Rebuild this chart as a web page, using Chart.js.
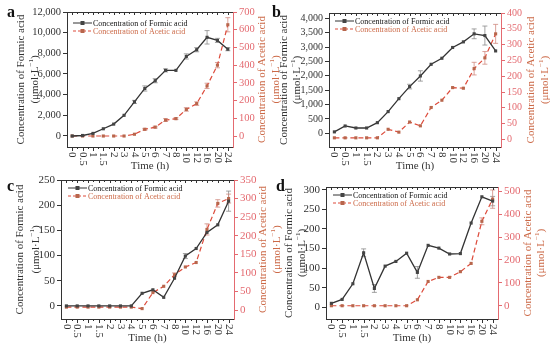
<!DOCTYPE html>
<html>
<head>
<meta charset="utf-8">
<script src="https://cdn.jsdelivr.net/npm/chart.js@4.4.1/dist/chart.umd.min.js"></script>
<style>
  body { margin: 0; background: #fff; }
  #wrap { position: relative; width: 550px; height: 348px; }
  #wrap canvas { position: absolute; left: 0; top: 0; }
</style>
</head>
<body>
<div id="wrap">
  <canvas id="panel_a" width="550" height="348"></canvas>
  <canvas id="panel_b" width="550" height="348"></canvas>
  <canvas id="panel_c" width="550" height="348"></canvas>
  <canvas id="panel_d" width="550" height="348"></canvas>
</div>
<script>
// sampling times (h)
const timeLabels = ['0', '0.5', '1', '1.5', '2', '3', '4', '5', '6', '7', '8', '10', '12', '16', '20', '24'];

// panel a
const formicA = [0, 50, 250, 700, 1150, 2000, 3300, 4600, 5350, 6350, 6350, 7700, 8350, 9550, 9250, 8400];
const aceticA = [0, 0, 0, 0, 0, 0, 10, 38, 50, 90, 98, 150, 183, 283, 400, 628];
const formicErrA = [0, 0, 0, 0, 0, 0, 150, 250, 200, 150, 0, 250, 200, 650, 200, 150];
const aceticErrA = [0, 0, 0, 0, 0, 0, 0, 5, 5, 8, 5, 10, 10, 15, 15, 40];

// panel b
const formicB = [50, 255, 185, 185, 370, 755, 1205, 1625, 1995, 2400, 2610, 2985, 3180, 3460, 3400, 2865];
const aceticB = [5, 5, 5, 5, 5, 32, 23, 55, 43, 101, 124, 164, 162, 224, 258, 334];
const formicErrB = [0, 0, 0, 0, 0, 0, 0, 80, 180, 0, 0, 0, 0, 170, 330, 0];
const aceticErrB = [0, 0, 0, 0, 0, 0, 0, 0, 0, 0, 0, 0, 0, 20, 20, 30];

// panel c
const formicC = [0, 0, 0, 0, 0, 0, 0, 25, 32, 17, 55, 99, 114, 146, 161, 208];
const aceticC = [8, 8, 8, 8, 8, 8, 8, 4, 47, 64, 95, 116, 128, 217, 287, 300];
const formicErrC = [0, 0, 0, 0, 0, 0, 0, 0, 0, 0, 0, 5, 0, 0, 0, 20];
const aceticErrC = [0, 0, 0, 0, 0, 0, 0, 0, 0, 0, 5, 0, 0, 15, 10, 12];

// panel d
const formicD = [10, 20, 60, 139, 48, 105, 117, 138, 89, 158, 151, 136, 137, 215, 282, 271];
const aceticD = [0, 0, 0, 0, 0, 0, 0, 0, 26, 106, 124, 124, 149, 185, 369, 466];
const formicErrD = [0, 0, 0, 10, 10, 0, 0, 0, 15, 0, 0, 0, 0, 0, 0, 12];
const aceticErrD = [0, 0, 0, 0, 0, 0, 0, 0, 0, 0, 0, 0, 0, 0, 15, 40];

const SERIF = "'Liberation Serif', 'Times New Roman', serif";
const DARK = '#333333';
const RED_AXIS = '#e46a70';
const ACETIC_LINE = '#dd4b3b';
const ACETIC_MARK = '#b8664c';
const ACETIC_TEXT = '#cc6a48';

Chart.defaults.font.family = SERIF;
Chart.defaults.font.size = 11;

// "(μmol·L-1)" with a real superscript, centred at (0,0) in the current frame
function drawUnit(ctx, color) {
  ctx.fillStyle = color;
  ctx.textBaseline = 'middle';
  ctx.textAlign = 'left';
  const a = '(\u03bcmol\u00b7L', sup = '\u22121', b = ')';
  ctx.font = '11px ' + SERIF;
  const wa = ctx.measureText(a).width, wb = ctx.measureText(b).width;
  ctx.font = '7px ' + SERIF;
  const ws = ctx.measureText(sup).width;
  let x = -(wa + ws + wb) / 2;
  ctx.font = '11px ' + SERIF;
  ctx.fillText(a, x, 0); x += wa;
  ctx.font = '7px ' + SERIF;
  ctx.fillText(sup, x, -4); x += ws;
  ctx.font = '11px ' + SERIF;
  ctx.fillText(b, x, 0);
}

// ticks from 0 up to max, every step
function zeroUpTicks(step) {
  return s => {
    const out = [];
    for (let v = 0; v <= s.max + 1e-9; v += step) out.push({ value: v });
    s.ticks = out;
  };
}

const decoPlugin = {
  id: 'deco',
  beforeDatasetsDraw(chart, args, o) {
    const ctx = chart.ctx;
    ctx.save();
    ctx.lineWidth = 0.8;
    chart.data.datasets.forEach((ds, di) => {
      const ys = chart.scales[ds.yAxisID];
      const meta = chart.getDatasetMeta(di);
      ctx.strokeStyle = di === 0 ? '#8a8a8a' : '#d08a80';
      ds.errors.forEach((e, i) => {
        if (!e) return;
        const px = meta.data[i].x;
        const y1 = ys.getPixelForValue(ds.data[i] + e);
        const y2 = ys.getPixelForValue(ds.data[i] - e);
        ctx.beginPath();
        ctx.moveTo(px, y1); ctx.lineTo(px, y2);
        ctx.moveTo(px - 2.5, y1); ctx.lineTo(px + 2.5, y1);
        ctx.moveTo(px - 2.5, y2); ctx.lineTo(px + 2.5, y2);
        ctx.stroke();
      });
    });
    ctx.restore();
  },
  afterDraw(chart, args, o) {
    const ctx = chart.ctx;
    const area = chart.chartArea;
    const xs = chart.scales.x;
    ctx.save();

    // top frame with ticks
    ctx.strokeStyle = DARK;
    ctx.lineWidth = 1;
    ctx.beginPath();
    ctx.moveTo(area.left, area.top + 0.5);
    ctx.lineTo(area.right, area.top + 0.5);
    for (let i = 0; i < timeLabels.length; i++) {
      const px = Math.round(xs.getPixelForValue(i)) + 0.5;
      ctx.moveTo(px, area.top); ctx.lineTo(px, area.top + 3);
      ctx.moveTo(px, area.bottom); ctx.lineTo(px, area.bottom + 4);
      if (i < timeLabels.length - 1) {
        const mx = Math.round((xs.getPixelForValue(i) + xs.getPixelForValue(i + 1)) / 2) + 0.5;
        ctx.moveTo(mx, area.top); ctx.lineTo(mx, area.top + 2);
        ctx.moveTo(mx, area.bottom); ctx.lineTo(mx, area.bottom + 2);
      }
    }
    ctx.stroke();

    // x tick labels, rotated clockwise
    ctx.fillStyle = DARK;
    ctx.font = '11px ' + SERIF;
    ctx.textAlign = 'left';
    ctx.textBaseline = 'middle';
    timeLabels.forEach((t, i) => {
      ctx.save();
      ctx.translate(xs.getPixelForValue(i), area.bottom + 5);
      ctx.rotate(Math.PI / 2);
      ctx.fillText(t, 0, 0);
      ctx.restore();
    });

    // x title
    ctx.textAlign = 'center';
    ctx.font = '11px ' + SERIF;
    ctx.fillText('Time (h)', (area.left + area.right) / 2, area.bottom + 19);

    // y titles
    const cy = (area.top + area.bottom) / 2;
    const tx = o.titleX;
    ctx.save();
    ctx.translate(tx[0], cy); ctx.rotate(-Math.PI / 2);
    ctx.textAlign = 'center'; ctx.textBaseline = 'middle'; ctx.fillStyle = DARK;
    ctx.font = '11px ' + SERIF;
    ctx.fillText('Concentration of Formic acid', 0, 0);
    ctx.restore();
    ctx.save();
    ctx.translate(tx[1], cy); ctx.rotate(-Math.PI / 2);
    drawUnit(ctx, DARK);
    ctx.restore();
    ctx.save();
    ctx.translate(tx[2], cy); ctx.rotate(-Math.PI / 2);
    ctx.textAlign = 'center'; ctx.textBaseline = 'middle'; ctx.fillStyle = ACETIC_TEXT;
    ctx.font = '11px ' + SERIF;
    ctx.fillText('Concentration of Acetic acid', 0, 0);
    ctx.restore();
    ctx.save();
    ctx.translate(tx[3], cy); ctx.rotate(-Math.PI / 2);
    drawUnit(ctx, ACETIC_TEXT);
    ctx.restore();

    // legend inside plot
    const lx = area.left + o.legend[0], ly = area.top + o.legend[1];
    const rows = [
      { text: 'Concentration of Formic acid', line: DARK, mark: '#444', color: '#111', dash: [] },
      { text: 'Concentration of Acetic acid', line: ACETIC_LINE, mark: ACETIC_MARK, color: ACETIC_TEXT, dash: [3, 2] }
    ];
    ctx.font = '8px ' + SERIF;
    ctx.textAlign = 'left';
    ctx.textBaseline = 'middle';
    rows.forEach((r, k) => {
      const y = ly + k * 8;
      ctx.strokeStyle = r.line;
      ctx.lineWidth = 1;
      ctx.setLineDash(r.dash);
      ctx.beginPath(); ctx.moveTo(lx, y); ctx.lineTo(lx + 19, y); ctx.stroke();
      ctx.setLineDash([]);
      ctx.fillStyle = r.mark;
      ctx.fillRect(lx + 7.5, y - 2, 4, 4);
      ctx.fillStyle = r.color;
      ctx.fillText(r.text, lx + 20, y + 0.5);
    });

    // panel letter
    ctx.fillStyle = '#111';
    ctx.font = 'bold 16px ' + SERIF;
    ctx.textAlign = 'left';
    ctx.textBaseline = 'middle';
    ctx.fillText(o.letter[0], o.letter[1], o.letter[2]);
    ctx.restore();
  }
};

function makePanel(id, p) {
  const W = 550, H = 348, LW = 45, RW = 30, XH = 20;
  const ctx = document.getElementById(id).getContext('2d');
  return new Chart(ctx, {
    type: 'line',
    data: {
      labels: timeLabels,
      datasets: [{
        data: p.formic,
        errors: p.formicErr,
        yAxisID: 'y',
        borderColor: DARK,
        backgroundColor: '#444',
        borderWidth: 1.3,
        pointStyle: 'rect',
        pointRadius: 2.2,
        pointBorderWidth: 0,
        fill: false,
        tension: 0
      }, {
        data: p.acetic,
        errors: p.aceticErr,
        yAxisID: 'y1',
        borderColor: ACETIC_LINE,
        backgroundColor: ACETIC_MARK,
        borderWidth: 1.2,
        borderDash: [5, 3],
        pointStyle: 'rect',
        pointRadius: 2.2,
        pointBorderWidth: 0,
        fill: false,
        tension: 0
      }]
    },
    options: {
      responsive: false,
      animation: false,
      locale: 'en-US',
      layout: {
        autoPadding: false,
        padding: {
          left: p.area[0] - LW,
          right: W - p.area[1] - RW,
          top: p.area[2],
          bottom: H - p.area[3] - XH
        }
      },
      plugins: {
        legend: { display: false },
        tooltip: { enabled: false },
        deco: { titleX: p.titleX, legend: p.legend, letter: p.letter }
      },
      scales: {
        x: {
          type: 'category',
          offset: true,
          afterFit: s => { s.height = XH; },
          ticks: { display: false },
          grid: { display: false },
          border: { color: DARK, width: 1 }
        },
        y: {
          position: 'left',
          min: p.left[0], max: p.left[1],
          afterBuildTicks: zeroUpTicks(p.left[2]),
          afterFit: s => { s.width = LW; },
          ticks: { color: DARK, padding: 2, font: { size: p.tickSize } },
          grid: { drawOnChartArea: false, tickLength: 4, color: DARK },
          border: { color: DARK, width: 1 }
        },
        y1: {
          position: 'right',
          min: p.right[0], max: p.right[1],
          afterBuildTicks: zeroUpTicks(p.right[2]),
          afterFit: s => { s.width = RW; },
          ticks: { color: RED_AXIS, padding: 2, font: { size: p.tickSize } },
          grid: { drawOnChartArea: false, tickLength: 4, color: RED_AXIS },
          border: { color: RED_AXIS, width: 1 }
        }
      }
    },
    plugins: [decoPlugin]
  });
}

makePanel('panel_a', {
  formic: formicA, acetic: aceticA, formicErr: formicErrA, aceticErr: aceticErrA,
  area: [67, 233, 12, 147], tickSize: 10.5,
  left: [-1065, 12000, 2000], right: [-62, 700, 100],
  titleX: [21, 35, 262, 276], legend: [6, 11], letter: ['a', 7, 13]
});
makePanel('panel_b', {
  formic: formicB, acetic: aceticB, formicErr: formicErrB, aceticErr: aceticErrB,
  area: [329, 501, 13, 147], tickSize: 10,
  left: [-476, 4184, 500], right: [-24, 400, 50],
  titleX: [284, 297, 531, 545], legend: [6, 8], letter: ['b', 272, 13]
});
makePanel('panel_c', {
  formic: formicC, acetic: aceticC, formicErr: formicErrC, aceticErr: aceticErrC,
  area: [61, 234, 180, 319], tickSize: 11,
  left: [-26, 250, 50], right: [-24, 350, 50],
  titleX: [20, 36, 263, 277], legend: [7, 8], letter: ['c', 7, 187]
});
makePanel('panel_d', {
  formic: formicD, acetic: aceticD, formicErr: formicErrD, aceticErr: aceticErrD,
  area: [326, 498, 187, 319], tickSize: 11,
  left: [-30, 307, 50], right: [-58, 519, 100],
  titleX: [289, 302, 528, 541], legend: [7, 8], letter: ['d', 276, 187]
});
</script>
</body>
</html>
